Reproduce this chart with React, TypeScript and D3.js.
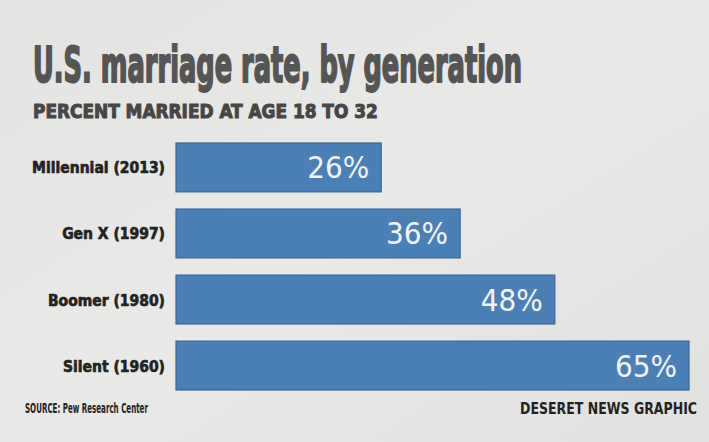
import React, { useLayoutEffect, useRef, useState } from "react";
import * as d3 from "d3";

const categories = ["Millennial (2013)", "Gen X (1997)", "Boomer (1980)", "Silent (1960)"];
const values = [26, 36, 48, 65];
const valueLabels = ["26%", "36%", "48%", "65%"];
const titleText = "U.S. marriage rate, by generation";
const subtitleText = "PERCENT MARRIED AT AGE 18 TO 32";
const sourceText = "SOURCE: Pew Research Center";
const creditText = "DESERET NEWS GRAPHIC";

const W = 709;
const H = 442;
const narrow = "'DejaVu Sans Condensed', 'Liberation Sans Narrow', sans-serif";

function FitText(props: { x: number; y: number; width: number; anchor?: "start" | "end"; children: string; [k: string]: any }) {
  const { x, y, width, anchor = "start", children, ...rest } = props;
  const ref = useRef<SVGTextElement>(null);
  const [sx, setSx] = useState(1);
  useLayoutEffect(() => {
    if (ref.current) {
      const w = ref.current.getComputedTextLength();
      if (w > 0) setSx(width / w);
    }
  }, [width, children]);
  return (
    <text ref={ref} transform={`translate(${x},${y}) scale(${sx},1)`} textAnchor={anchor} {...rest}>
      {children}
    </text>
  );
}

export default function App() {
  const x = d3.scaleLinear().domain([0, 65]).range([176, 689]);
  const y = d3.scaleBand<string>().domain(categories).range([143, 390]).paddingInner(0.26).paddingOuter(0);
  return (
    <svg width={W} height={H} style={{ position: "absolute", left: 0, top: 0 }}>
      <defs>
        <linearGradient id="paper" x1="0" y1="0" x2="1" y2="1">
          <stop offset="0" stopColor="#e3e3e1" />
          <stop offset="0.5" stopColor="#e9e9e7" />
          <stop offset="1" stopColor="#e1e1df" />
        </linearGradient>
      </defs>
      <rect x={0} y={0} width={W} height={H} fill="url(#paper)" />
      <FitText x={33} y={82} width={489} fontFamily={narrow} fontWeight="bold" fontSize={50} fill="#555"
        stroke="#555" strokeWidth={2}>{titleText}</FitText>
      <FitText x={33} y={118} width={345} fontFamily={narrow} fontWeight="bold" fontSize={20} fill="#464646"
        stroke="#464646" strokeWidth={1}>{subtitleText}</FitText>
      {categories.map((c, i) => {
        const y0 = y(c)!;
        const bw = y.bandwidth();
        return (
          <g key={c}>
            <rect x={x(0)} y={y0} width={x(values[i]) - x(0)} height={bw} fill="#4a80b5" stroke="#3a6690" strokeWidth={1.2} />
            <text x={165} y={y0 + bw / 2 + 6} textAnchor="end" fontFamily={narrow} fontWeight="bold" fontSize={15.5}
              fill="#222" stroke="#222" strokeWidth={0.6}>{c}</text>
            <text x={x(values[i]) - 12} y={y0 + bw / 2 + 11} textAnchor="end" fontFamily={narrow} fontSize={31}
              fill="#f2f4f6">{valueLabels[i]}</text>
          </g>
        );
      })}
      <FitText x={25} y={413} width={123} fontFamily={narrow} fontWeight="bold" fontSize={14} fill="#222">{sourceText}</FitText>
      <FitText x={697} y={414} width={177} anchor="end" fontFamily={narrow} fontWeight="bold" fontSize={15} fill="#222">{creditText}</FitText>
    </svg>
  );
}
